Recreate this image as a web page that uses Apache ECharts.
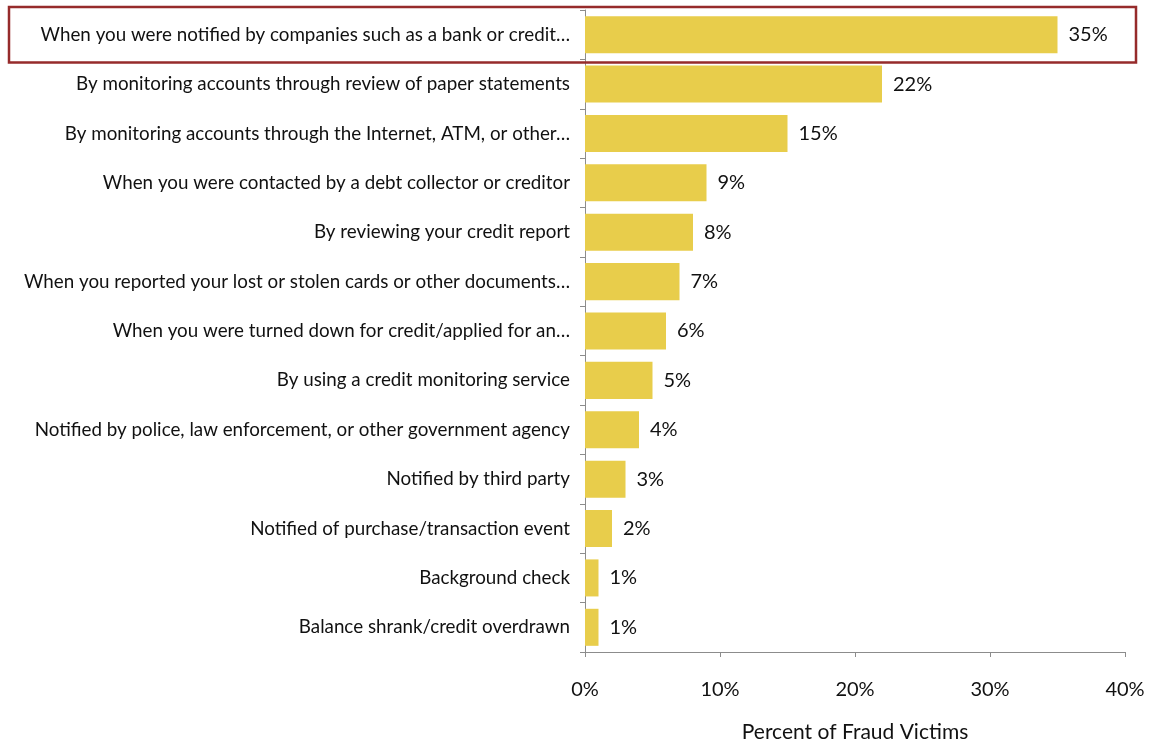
<!DOCTYPE html>
<html>
<head>
<meta charset="utf-8">
<script src="https://cdn.jsdelivr.net/npm/echarts@6/dist/echarts.min.js"></script>
<style>
html,body{margin:0;padding:0;background:#fff;}
#chart{width:1151px;height:742px;}
</style>
</head>
<body>
<div id="chart"></div>
<script>
const categories = [
  "When you were notified by companies such as a bank or credit…",
  "By monitoring accounts through review of paper statements",
  "By monitoring accounts through the Internet, ATM, or other…",
  "When you were contacted by a debt collector or creditor",
  "By reviewing your credit report",
  "When you reported your lost or stolen cards or other documents…",
  "When you were turned down for credit/applied for an…",
  "By using a credit monitoring service",
  "Notified by police, law enforcement, or other government agency",
  "Notified by third party",
  "Notified of purchase/transaction event",
  "Background check",
  "Balance shrank/credit overdrawn"
];
const values = [35, 22, 15, 9, 8, 7, 6, 5, 4, 3, 2, 1, 1];
const xTicks = [0, 10, 20, 30, 40];
const axisName = "Percent of Fraud Victims";

const FONT = "Lato";
const chart = echarts.init(document.getElementById('chart'));
chart.setOption({
  animation: false,
  grid: {left: 585, right: 26, top: 10, bottom: 90, containLabel: false, outerBoundsMode: 'none'},
  xAxis: {
    type: 'value',
    min: xTicks[0], max: xTicks[xTicks.length - 1], interval: 10,
    splitLine: {show: false},
    axisLine: {show: true, lineStyle: {color: '#8c8c8c', width: 1}},
    axisTick: {show: true, length: 5, lineStyle: {color: '#8c8c8c'}},
    axisLabel: {formatter: v => v + '%', fontFamily: FONT, fontSize: 20, color: '#111', margin: 28},
    name: axisName, nameLocation: 'middle', nameGap: 70,
    nameTextStyle: {fontFamily: FONT, fontSize: 21, color: '#111'}
  },
  yAxis: {
    type: 'category', data: categories, inverse: true,
    axisLine: {show: true, lineStyle: {color: '#8c8c8c', width: 1}},
    axisTick: {show: true, length: 5, lineStyle: {color: '#8c8c8c'}},
    axisLabel: {fontFamily: FONT, fontSize: 18.8, color: '#111', margin: 15}
  },
  series: [{
    type: 'bar', data: values, barCategoryGap: '25%',
    itemStyle: {color: '#E8CD4B'},
    label: {show: true, position: 'right', distance: 11, formatter: p => p.value + '%',
      fontFamily: FONT, fontSize: 20, color: '#111'}
  }]
});

// highlight box around first category row
const c0 = chart.convertToPixel({yAxisIndex: 0}, categories[0]);
const c1 = chart.convertToPixel({yAxisIndex: 0}, categories[1]);
const band = c1 - c0;
chart.setOption({
  graphic: [{
    type: 'rect',
    shape: {x: 9, y: c0 - band / 2 - 3, width: 1127, height: band + 6},
    style: {fill: 'none', stroke: '#962B2B', lineWidth: 2.5},
    z: 100
  }]
});
</script>
</body>
</html>
